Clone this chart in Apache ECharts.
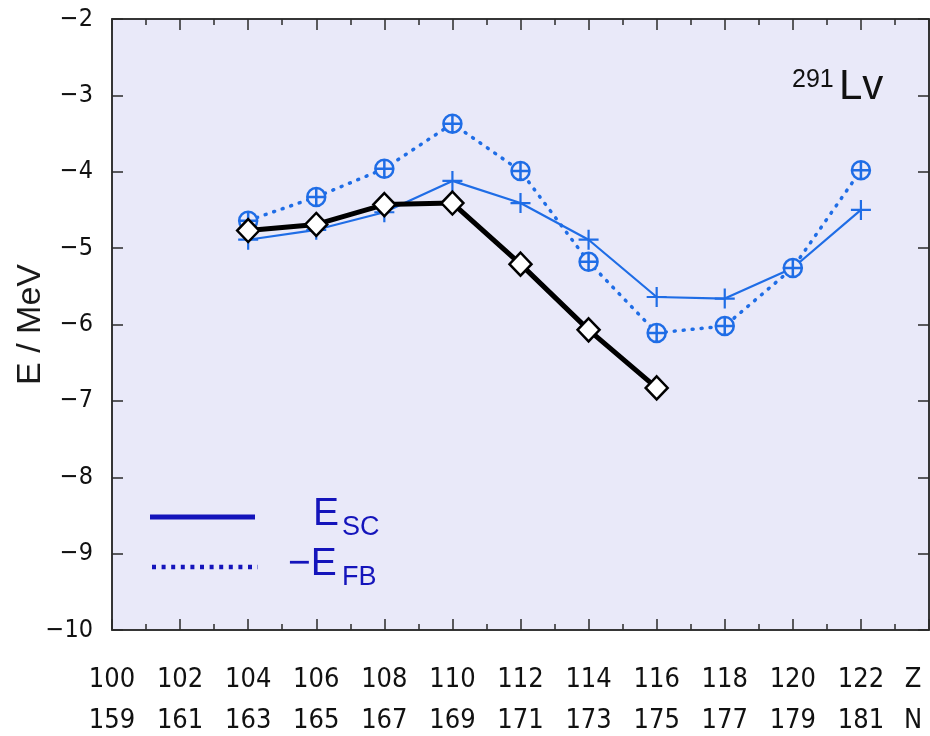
<!DOCTYPE html>
<html>
<head>
<meta charset="utf-8">
<style>
  html, body { margin: 0; padding: 0; background: #ffffff; }
  #chart { width: 930px; height: 736px; }
</style>
<script src="https://cdn.jsdelivr.net/npm/echarts@6/dist/echarts.min.js"></script>
</head>
<body>
<div id="chart"></div>
<script>
// ---- data ----
const tickValues = [100, 102, 104, 106, 108, 110, 112, 114, 116, 118, 120, 122, 124];
const zLabels = ['100', '102', '104', '106', '108', '110', '112', '114', '116', '118', '120', '122', 'Z'];
const nLabels = ['159', '161', '163', '165', '167', '169', '171', '173', '175', '177', '179', '181', 'N'];

const zBlue = [104, 106, 108, 110, 112, 114, 116, 118, 120, 122];
const eSC = [-4.89, -4.76, -4.53, -4.12, -4.41, -4.89, -5.64, -5.66, -5.26, -4.50];
const eFB = [-4.64, -4.33, -3.96, -3.37, -3.99, -5.18, -6.11, -6.02, -5.26, -3.98];

const zBlack = [104, 106, 108, 110, 112, 114, 116];
const eBlack = [-4.77, -4.69, -4.43, -4.41, -5.21, -6.07, -6.83];

const yTicks = [-10, -9, -8, -7, -6, -5, -4, -3, -2];

const BLUE = '#1f6de6';
const LEG = '#1414bb';
const BG = '#e9e9f9';
const AX = '#2a2a2a';
const TICKFONT = "'DejaVu Sans Condensed', 'Liberation Sans Narrow', sans-serif";
const SANS = "'Liberation Sans', Arial, sans-serif";

function pairs(xs, ys) { return xs.map((x, i) => [x, ys[i]]); }

const chart = echarts.init(document.getElementById('chart'));

const xCommon = {
  type: 'value', min: 100, max: 124, interval: 2,
  axisLine: { show: true, onZero: false, lineStyle: { color: AX, width: 1.5 } },
  axisTick: { show: true, inside: true, length: 11, lineStyle: { color: AX, width: 1.5 } },
  minorTick: { show: true, splitNumber: 2, length: 6, lineStyle: { color: AX, width: 1.5 } },
  splitLine: { show: false }, minorSplitLine: { show: false }
};
const yCommon = {
  type: 'value', min: -10, max: -2, interval: 1,
  axisLine: { show: true, onZero: false, lineStyle: { color: AX, width: 1.5 } },
  axisTick: { show: true, inside: true, length: 11, lineStyle: { color: AX, width: 1.5 } },
  splitLine: { show: false }
};

const option = {
  animation: false,
  backgroundColor: '#ffffff',
  grid: {
    left: 112, right: 1, top: 19, bottom: 106, containLabel: false, outerBoundsMode: 'none',
    show: true, backgroundColor: BG, borderColor: AX, borderWidth: 1.5
  },
  xAxis: [
    Object.assign({}, xCommon, {
      position: 'bottom',
      axisLabel: {
        show: true, margin: 29, color: '#111', fontFamily: TICKFONT, fontSize: 27, lineHeight: 41,
        formatter: function (v) {
          const i = tickValues.indexOf(v);
          if (i < 0) return '';
          if (v === 124) return '{zn|' + zLabels[i] + '\n' + nLabels[i] + '}';
          return zLabels[i] + '\n' + nLabels[i];
        },
        rich: { zn: { fontFamily: TICKFONT, fontSize: 27, lineHeight: 41, color: '#111', padding: [0, 32, 0, 0] } }
      }
    }),
    Object.assign({}, xCommon, { position: 'top', axisLabel: { show: false } })
  ],
  yAxis: [
    Object.assign({}, yCommon, {
      position: 'left',
      name: 'E / MeV', nameLocation: 'middle', nameGap: 64, nameRotate: 90, nameMoveOverlap: false,
      nameTextStyle: { fontFamily: SANS, fontSize: 34, color: '#1a1a1a' },
      axisLabel: {
        show: true, margin: 19, color: '#111', fontFamily: TICKFONT, fontSize: 25,
        formatter: function (v) { return yTicks.indexOf(v) >= 0 ? '\u2212' + Math.abs(v) : ''; }
      }
    }),
    Object.assign({}, yCommon, { position: 'right', axisLabel: { show: false } })
  ],
  series: [
    {
      name: 'E_SC', type: 'line', xAxisIndex: 0, yAxisIndex: 0,
      data: pairs(zBlue, eSC),
      symbol: 'path://M10,0L10,20M0,10L20,10', symbolSize: 20,
      itemStyle: { color: BLUE, borderColor: BLUE, borderWidth: 2.2 },
      lineStyle: { color: BLUE, width: 2.2 },
      z: 2
    },
    {
      name: '-E_FB', type: 'line', xAxisIndex: 0, yAxisIndex: 0,
      data: pairs(zBlue, eFB),
      symbol: 'path://M0,10A10,10 0 1,1 20,10A10,10 0 1,1 0,10ZM10,0L10,20M0,10L20,10', symbolSize: 18,
      itemStyle: { color: BG, borderColor: BLUE, borderWidth: 2.5 },
      lineStyle: { color: BLUE, width: 3.5, type: [1, 8], cap: 'round' },
      z: 3
    },
    {
      name: 'black', type: 'line', xAxisIndex: 0, yAxisIndex: 0,
      data: pairs(zBlack, eBlack),
      symbol: 'diamond', symbolSize: [22, 23],
      itemStyle: { color: '#ffffff', borderColor: '#000000', borderWidth: 2.5 },
      lineStyle: { color: '#000000', width: 5 },
      z: 4
    }
  ],
  graphic: [
    { type: 'line', shape: { x1: 150, y1: 517, x2: 255, y2: 517 }, style: { stroke: LEG, lineWidth: 5 }, z: 10 },
    { type: 'line', shape: { x1: 152, y1: 567, x2: 258, y2: 567 }, style: { stroke: LEG, lineWidth: 4.5, lineDash: [4, 5.6] }, z: 10 },
    { type: 'text', left: 313, top: 495, style: { text: 'E', fontFamily: SANS, fontSize: 39, fill: LEG }, z: 10 },
    { type: 'text', left: 342, top: 514, style: { text: 'SC', fontFamily: SANS, fontSize: 27, fill: LEG }, z: 10 },
    { type: 'text', left: 288, top: 545, style: { text: '\u2212E', fontFamily: SANS, fontSize: 39, fill: LEG }, z: 10 },
    { type: 'text', left: 342, top: 564, style: { text: 'FB', fontFamily: SANS, fontSize: 27, fill: LEG }, z: 10 },
    { type: 'text', left: 792, top: 68, style: { text: '291', fontFamily: SANS, fontSize: 25, fill: '#111' }, z: 10 },
    { type: 'text', left: 839, top: 66, style: { text: 'Lv', fontFamily: SANS, fontSize: 42, fill: '#111' }, z: 10 }
  ]
};

chart.setOption(option);
</script>
</body>
</html>
